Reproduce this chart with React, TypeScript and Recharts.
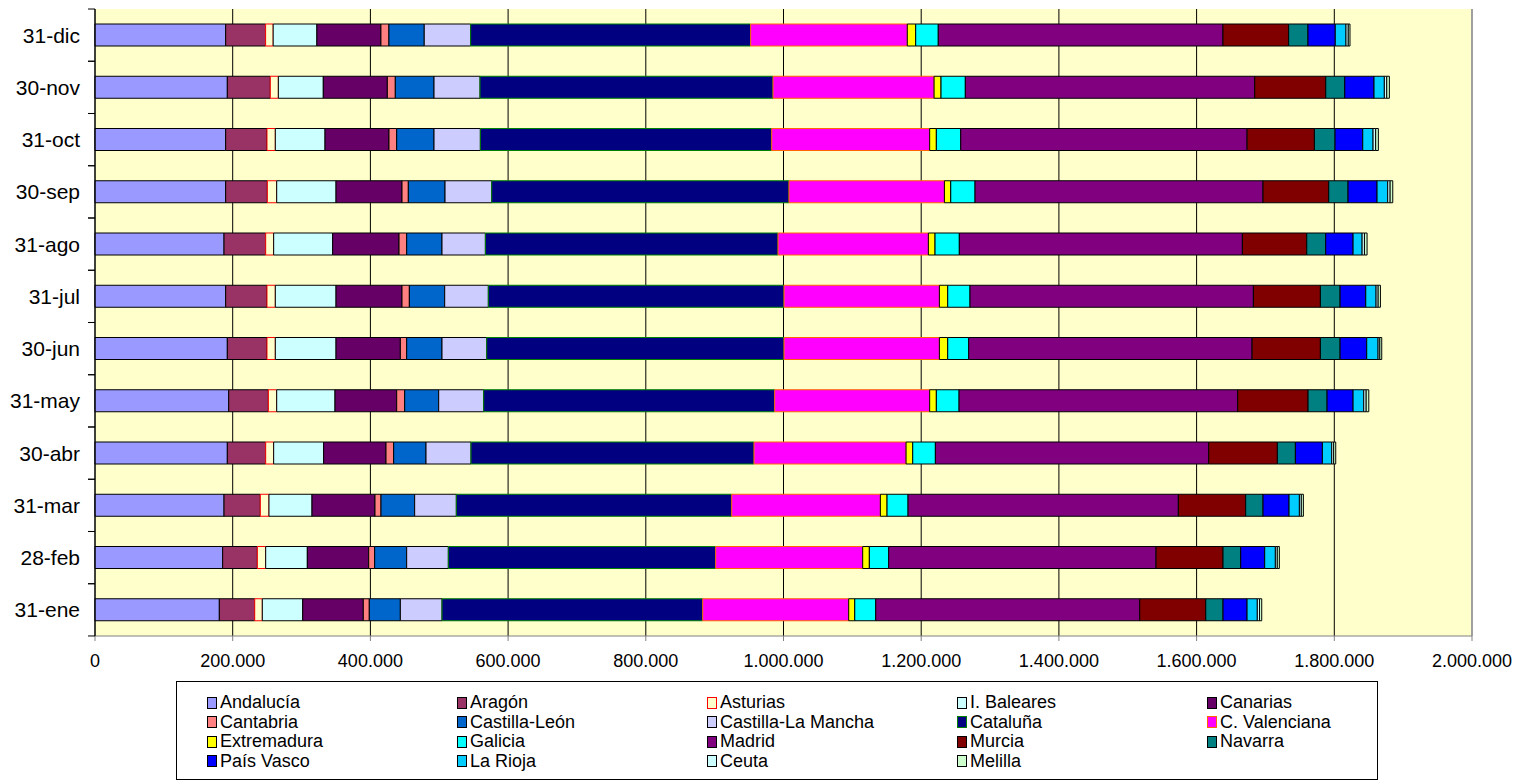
import { Bar, BarChart, CartesianGrid, ReferenceLine, XAxis, YAxis } from "recharts";

const FONT = "'Liberation Sans', Arial, sans-serif";

// fechas de corte, de enero a diciembre (el eje las pinta de abajo arriba)
const FECHAS = [
  "31-ene", "28-feb", "31-mar", "30-abr", "31-may", "30-jun",
  "31-jul", "31-ago", "30-sep", "31-oct", "30-nov", "31-dic",
];

const TICKS_X = [0, 200000, 400000, 600000, 800000, 1000000, 1200000, 1400000, 1600000, 1800000, 2000000];

const ANDALUCIA = [180600, 185400, 187400, 192200, 194200, 192200, 189800, 187400, 189800, 189800, 192200, 189800];
const ARAGON = [51400, 50400, 52700, 55700, 57600, 57600, 60000, 60500, 60500, 60000, 62400, 58000];
const ASTURIAS = [11000, 12100, 12600, 11600, 12100, 12100, 12100, 11600, 13600, 12100, 11700, 11000];
const BALEARES = [58700, 60500, 62500, 72600, 84700, 88200, 88200, 85700, 86200, 72200, 65300, 63500];
const CANARIAS = [88000, 89100, 91500, 90600, 89600, 93400, 95800, 96400, 95800, 92900, 93000, 93000];
const CANTABRIA = [8700, 8700, 8700, 11100, 11600, 9200, 10700, 11100, 9200, 11200, 11600, 11600];
const CASTILLA_LEON = [45100, 46500, 48900, 47000, 49400, 51300, 51300, 51300, 53300, 54200, 56200, 51300];
const CASTILLA_MANCHA = [60500, 60500, 60500, 65300, 65300, 64900, 63400, 63000, 67800, 67300, 66800, 67400];
const CATALUNA = [378700, 388300, 400000, 411100, 422700, 431900, 429500, 425100, 431800, 423200, 425600, 406700];
const VALENCIANA = [212000, 213500, 215900, 220800, 225100, 225600, 225600, 218300, 225700, 229400, 233900, 227500];
const EXTREMADURA = [8800, 9700, 9700, 9700, 9700, 12100, 12100, 9700, 9200, 9700, 10100, 12200];
const GALICIA = [30500, 28100, 30500, 32900, 33000, 30500, 32400, 35300, 35300, 35400, 35300, 32800];
const MADRID = [383400, 388300, 392600, 397000, 404700, 411600, 411600, 411100, 418300, 415900, 420300, 413500];
const MURCIA = [95900, 97300, 97800, 99700, 102200, 99200, 97300, 93500, 95400, 97800, 103200, 95400];
const NAVARRA = [25100, 25700, 25200, 26200, 27600, 28600, 28600, 27500, 28100, 30000, 27600, 28100];
const PAIS_VASCO = [34900, 34800, 37800, 39200, 37800, 38700, 37300, 39800, 42100, 40200, 42500, 39600];
const LA_RIOJA = [14900, 15500, 15000, 13600, 15500, 16500, 15000, 13100, 15500, 15000, 15000, 15600];
const CEUTA = [3200, 2800, 2800, 2800, 3500, 2500, 3000, 3400, 3500, 3800, 3500, 3300];
const MELILLA = [3200, 3000, 3000, 3000, 3800, 2800, 3300, 3800, 3800, 3900, 3800, 2500];

const SERIES = [
  { key: "and", name: "Andalucía", values: ANDALUCIA, fill: "#9999FF", stroke: "#000" },
  { key: "ara", name: "Aragón", values: ARAGON, fill: "#993366", stroke: "#000" },
  { key: "ast", name: "Asturias", values: ASTURIAS, fill: "#FFFFCC", stroke: "#FF0000" },
  { key: "bal", name: "I. Baleares", values: BALEARES, fill: "#CCFFFF", stroke: "#000" },
  { key: "can", name: "Canarias", values: CANARIAS, fill: "#660066", stroke: "#000" },
  { key: "cnt", name: "Cantabria", values: CANTABRIA, fill: "#FF8080", stroke: "#000" },
  { key: "cyl", name: "Castilla-León", values: CASTILLA_LEON, fill: "#0066CC", stroke: "#000" },
  { key: "clm", name: "Castilla-La Mancha", values: CASTILLA_MANCHA, fill: "#CCCCFF", stroke: "#000" },
  { key: "cat", name: "Cataluña", values: CATALUNA, fill: "#000080", stroke: "#008000" },
  { key: "val", name: "C. Valenciana", values: VALENCIANA, fill: "#FF00FF", stroke: "#FF6600" },
  { key: "ext", name: "Extremadura", values: EXTREMADURA, fill: "#FFFF00", stroke: "#000" },
  { key: "gal", name: "Galicia", values: GALICIA, fill: "#00FFFF", stroke: "#000" },
  { key: "mad", name: "Madrid", values: MADRID, fill: "#800080", stroke: "#000" },
  { key: "mur", name: "Murcia", values: MURCIA, fill: "#800000", stroke: "#000" },
  { key: "nav", name: "Navarra", values: NAVARRA, fill: "#008080", stroke: "#000" },
  { key: "pvs", name: "País Vasco", values: PAIS_VASCO, fill: "#0000FF", stroke: "#000" },
  { key: "rio", name: "La Rioja", values: LA_RIOJA, fill: "#00CCFF", stroke: "#000" },
  { key: "ceu", name: "Ceuta", values: CEUTA, fill: "#CCFFFF", stroke: "#000" },
  { key: "mel", name: "Melilla", values: MELILLA, fill: "#CCFFCC", stroke: "#000" },
];

const data = FECHAS.map((fecha, i) => {
  const row: Record<string, string | number> = { fecha };
  SERIES.forEach((s) => (row[s.key] = s.values[i]));
  return row;
});

// 1.000.000 al estilo español
const miles = (v: number) => String(v).replace(/\B(?=(\d{3})+(?!\d))/g, ".");

const HALF_BAND = 26.1;

function YTick({ x, y, payload }: any) {
  return (
    <g>
      <text
        x={x}
        y={y}
        textAnchor="end"
        dominantBaseline="central"
        fontFamily={FONT}
        fontSize={21}
        fill="#000"
      >
        {payload.value}
      </text>
      {/* marcas entre categorías, como en Excel */}
      <line x1={x + 8} x2={x + 15} y1={y - HALF_BAND} y2={y - HALF_BAND} stroke="#000" />
      <line x1={x + 8} x2={x + 15} y1={y + HALF_BAND} y2={y + HALF_BAND} stroke="#000" />
    </g>
  );
}

function Leyenda() {
  return (
    <div
      style={{
        position: "absolute",
        left: 176,
        top: 681,
        width: 1202,
        height: 99,
        boxSizing: "border-box",
        border: "1px solid #000",
        background: "#fff",
        paddingLeft: 30,
        paddingTop: 11,
        display: "grid",
        gridTemplateColumns: "repeat(5, 250px)",
        gridAutoRows: "19.5px",
        fontFamily: FONT,
        fontSize: 18,
        color: "#000",
      }}
    >
      {SERIES.map((s) => (
        <div key={s.key} style={{ display: "flex", alignItems: "center", whiteSpace: "nowrap" }}>
          <span
            style={{
              display: "inline-block",
              width: 8,
              height: 10,
              background: s.fill,
              border: `1px solid ${s.stroke}`,
              marginRight: 3,
            }}
          />
          <span style={{ lineHeight: "19.5px" }}>{s.name}</span>
        </div>
      ))}
    </div>
  );
}

export default function App() {
  return (
    <div style={{ position: "absolute", left: 0, top: 0, width: 1522, height: 784, background: "#fff" }}>
      <BarChart
        width={1522}
        height={784}
        data={data}
        layout="vertical"
        margin={{ top: 9, right: 50, bottom: 118, left: 0 }}
        barSize={22}
      >
        <CartesianGrid horizontal={false} stroke="#000" fill="#FFFFCC" fillOpacity={1} />
        <XAxis
          type="number"
          domain={[0, 2000000]}
          ticks={TICKS_X}
          interval={0}
          tickFormatter={miles}
          height={30}
          stroke="#808080"
          tickSize={5}
          tickMargin={13}
          tick={{ fill: "#000", fontSize: 18, fontFamily: FONT }}
        />
        <YAxis
          type="category"
          dataKey="fecha"
          reversed
          width={95}
          stroke="#000"
          tickLine={false}
          tickSize={5}
          tickMargin={10}
          tick={<YTick />}
        />
        {/* borde derecho del área de trazado, gris como en el original */}
        <ReferenceLine x={2000000} stroke="#A0A0A0" strokeWidth={2} />
        {SERIES.map((s) => (
          <Bar
            key={s.key}
            dataKey={s.key}
            name={s.name}
            stackId="total"
            fill={s.fill}
            stroke={s.stroke}
            strokeWidth={1}
            isAnimationActive={false}
          />
        ))}
      </BarChart>
      <Leyenda />
    </div>
  );
}
